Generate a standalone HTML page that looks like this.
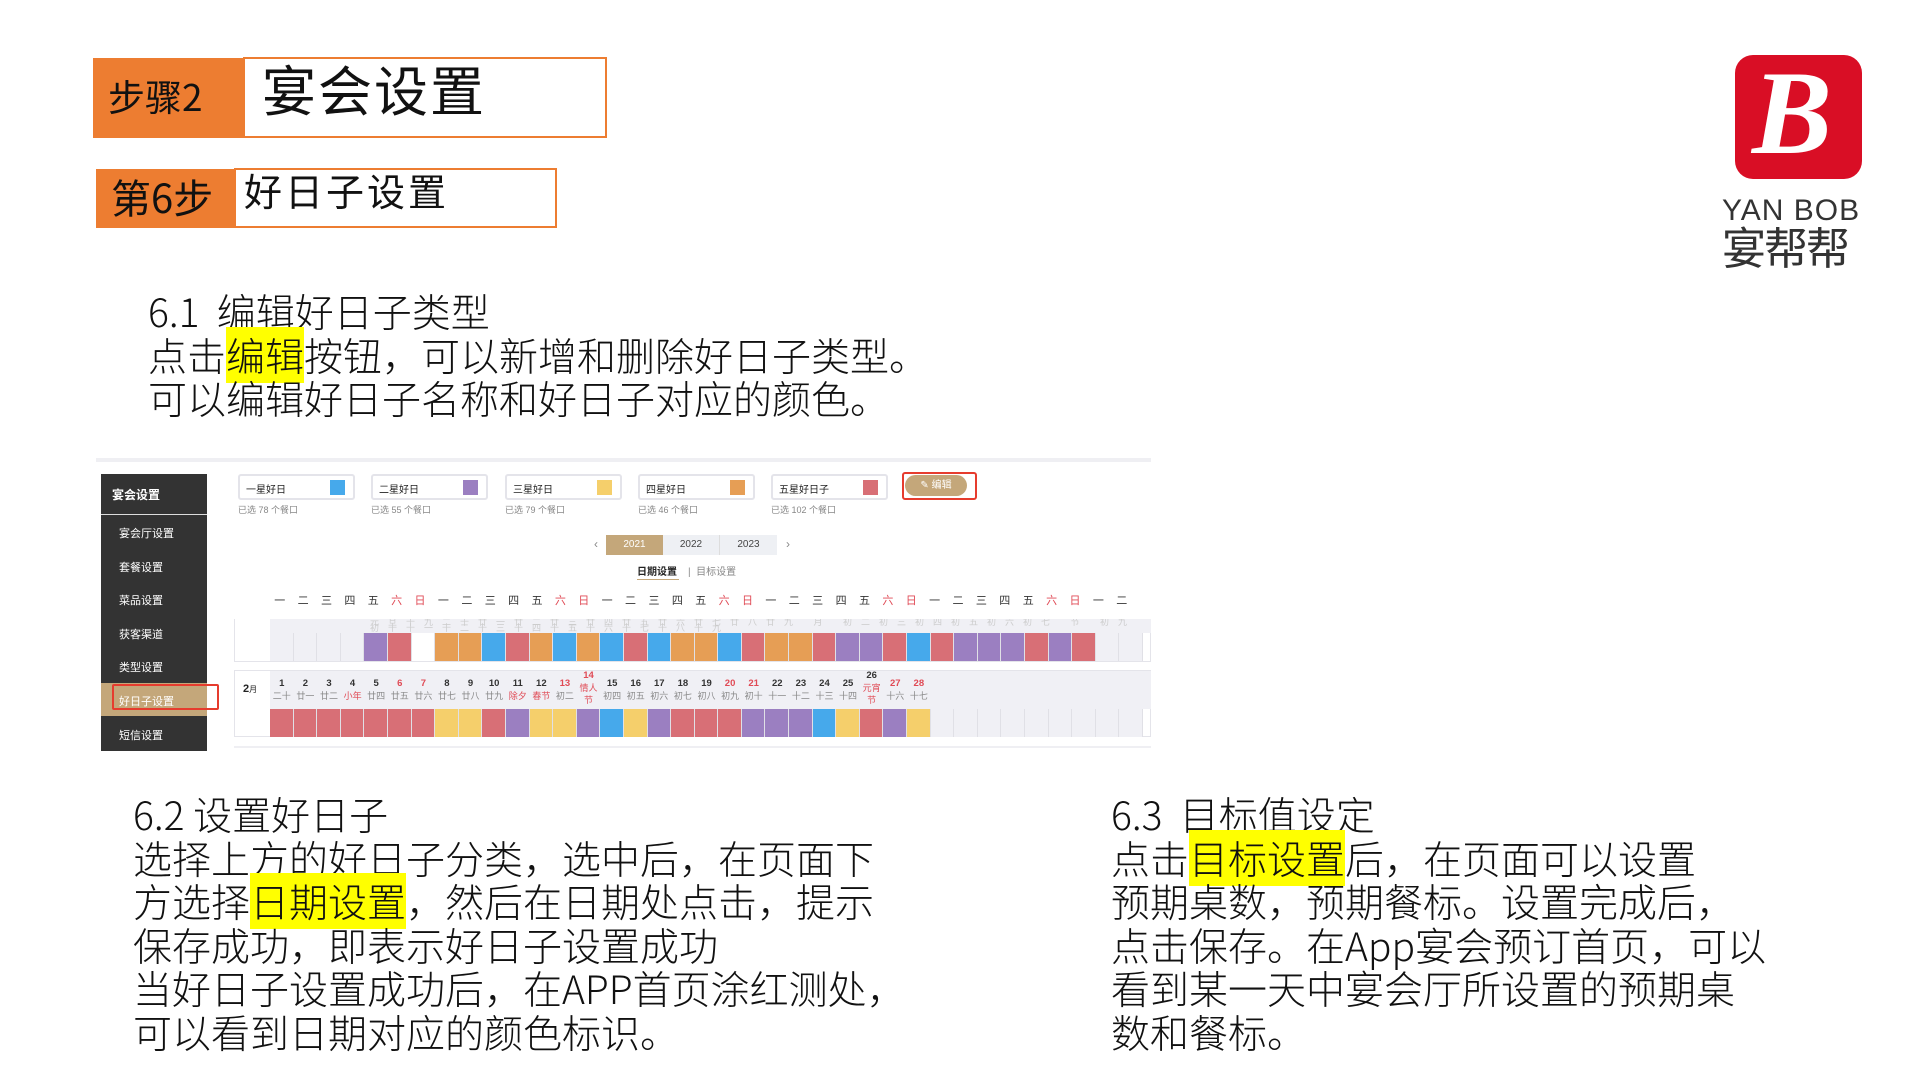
<!DOCTYPE html>
<html><head><meta charset="utf-8"><style>
*{margin:0;padding:0;box-sizing:border-box}
body{width:1920px;height:1080px;background:#fff;position:relative;overflow:hidden;font-family:"Liberation Sans","Noto Sans CJK SC",sans-serif;color:#111}
.a{position:absolute}
.big{font-family:"Liberation Sans Narrow","Noto Sans CJK SC",sans-serif;font-size:39px;line-height:43.6px;white-space:pre;color:#111;font-weight:300}
.hl{background:#ffff00}
.sb div{position:absolute;left:0;width:106px;color:#fff;font-size:11px;padding-left:18px}
.card{position:absolute;top:474px;width:117px;height:26px;border:2px solid #e4e4ea;border-radius:3px;background:#fff;font-size:10px;padding:5px 0 0 6px;color:#222}
.card i{position:absolute;right:8px;top:4px;width:15px;height:15px}
.sub{position:absolute;top:503px;font-size:9px;color:#888}
.row{position:absolute;left:270px;display:flex}
.row div{width:23.6px;height:28px;border-right:1px solid #e0e0e6}
.g{background:#f0f0f5}.w{background:#fff}.P{background:#9b7fc1}.R{background:#d86f76}.O{background:#e69e55}.B{background:#46a9eb}.Y{background:#f5cf6b}
.wk{position:absolute;top:592px;left:268px;display:flex;font-size:11px;color:#333}
.wk span{width:23.4px;text-align:center}
.r{color:#e04a55}
.fh{position:absolute;left:270px;top:670px;display:flex}
.fh div{width:23.6px;text-align:center;font-size:9px;line-height:12px;color:#333;padding-top:8px}
.fh div b{display:block;font-weight:bold;font-size:9.5px}
.fh div i{font-style:normal;color:#888;display:block}
.fh .r b,.fh .r i.rr{color:#e04a55}
</style></head><body>

<!-- headers -->
<div class="a" style="left:93px;top:58px;width:151px;height:80px;background:#ed7d31"></div>
<div class="a" style="left:108px;top:72px;font-size:37px;line-height:46px;font-family:'Liberation Sans Narrow','Noto Sans CJK SC',sans-serif;color:#111">步骤2</div>
<div class="a" style="left:243px;top:57px;width:364px;height:81px;border:2px solid #ed7d31;background:#fff"></div>
<div class="a" style="left:262px;top:60px;font-size:54px;line-height:66px;letter-spacing:2px;color:#111">宴会设置</div>

<div class="a" style="left:96px;top:169px;width:139px;height:59px;background:#ed7d31"></div>
<div class="a" style="left:111px;top:171px;font-size:40px;line-height:50px;font-family:'Liberation Sans Narrow','Noto Sans CJK SC',sans-serif;color:#111">第6步</div>
<div class="a" style="left:234px;top:168px;width:323px;height:60px;border:2px solid #ed7d31;background:#fff"></div>
<div class="a" style="left:244px;top:170px;font-size:38px;line-height:48px;letter-spacing:3px;color:#111">好日子设置</div>

<!-- logo -->
<div class="a" style="left:1735px;top:55px;width:127px;height:124px;background:#d90e25;border-radius:18px"></div>
<div class="a" style="left:1752px;top:48px;font-family:'Liberation Serif',serif;font-style:italic;font-weight:bold;font-size:120px;line-height:130px;color:#fff">B</div>
<div class="a" style="left:1722px;top:194px;font-size:30px;line-height:34px;color:#333;letter-spacing:1px">YAN BOB</div>
<div class="a" style="left:1722px;top:226px;font-size:44px;line-height:48px;color:#333;letter-spacing:-2px">宴帮帮</div>

<!-- 6.1 -->
<div class="a big" style="left:148px;top:290px">6.1  编辑好日子类型
点击<span class="hl">编辑</span>按钮，可以新增和删除好日子类型。
可以编辑好日子名称和好日子对应的颜色。</div>

<!-- screenshot -->
<div class="a" style="left:96px;top:458px;width:1055px;height:4px;background:#efeff3"></div>
<div class="a sb" style="left:101px;top:474px;width:106px;height:277px;background:#333">
 <div style="top:0;height:41px;border-bottom:1px solid #ddd;font-size:12px;padding:12px 0 0 11px;font-weight:bold">宴会设置</div>
 <div style="top:51px">宴会厅设置</div>
 <div style="top:85px">套餐设置</div>
 <div style="top:118px">菜品设置</div>
 <div style="top:152px">获客渠道</div>
 <div style="top:185px">类型设置</div>
 <div style="top:209px;height:33px;background:#c4a77a;padding-top:10px">好日子设置</div>
 <div style="top:253px">短信设置</div>
</div>
<div class="a" style="left:112px;top:684px;width:107px;height:26px;border:2px solid #e63c2e;border-radius:2px"></div>

<div class="card" style="left:238px">一星好日<i style="background:#46a9eb"></i></div>
<div class="card" style="left:371px">二星好日<i style="background:#9b7fc1"></i></div>
<div class="card" style="left:505px">三星好日<i style="background:#f5cf6b"></i></div>
<div class="card" style="left:638px">四星好日<i style="background:#e69e55"></i></div>
<div class="card" style="left:771px">五星好日子<i style="background:#d86f76"></i></div>
<div class="sub" style="left:238px">已选 78 个餐口</div>
<div class="sub" style="left:371px">已选 55 个餐口</div>
<div class="sub" style="left:505px">已选 79 个餐口</div>
<div class="sub" style="left:638px">已选 46 个餐口</div>
<div class="sub" style="left:771px">已选 102 个餐口</div>
<div class="a" style="left:902px;top:472px;width:75px;height:28px;border:2px solid #e63c2e;border-radius:3px"></div>
<div class="a" style="left:905px;top:475px;width:62px;height:21px;background:#c4a77a;border-radius:11px;color:#fff;font-size:10px;line-height:21px;text-align:center">✎ 编辑</div>

<div class="a" style="left:594px;top:537px;font-size:12px;color:#888">‹</div>
<div class="a" style="left:606px;top:535px;width:171px;height:20px;background:#eef0f4;display:flex;font-size:10px;line-height:20px;color:#444;text-align:center">
 <div style="width:57px;background:#c4a77a;color:#fff">2021</div><div style="width:57px;border-right:1px solid #ddd">2022</div><div style="width:57px">2023</div></div>
<div class="a" style="left:786px;top:537px;font-size:12px;color:#888">›</div>
<div class="a" style="left:637px;top:563px;font-size:10px;color:#222;font-weight:bold">日期设置</div>
<div class="a" style="left:637px;top:579px;width:42px;height:1px;background:#c4a77a"></div>
<div class="a" style="left:688px;top:563px;font-size:10px;color:#888">|&nbsp;&nbsp;目标设置</div>

<div class="wk"><span>一</span><span>二</span><span>三</span><span>四</span><span>五</span><span class="r">六</span><span class="r">日</span><span>一</span><span>二</span><span>三</span><span>四</span><span>五</span><span class="r">六</span><span class="r">日</span><span>一</span><span>二</span><span>三</span><span>四</span><span>五</span><span class="r">六</span><span class="r">日</span><span>一</span><span>二</span><span>三</span><span>四</span><span>五</span><span class="r">六</span><span class="r">日</span><span>一</span><span>二</span><span>三</span><span>四</span><span>五</span><span class="r">六</span><span class="r">日</span><span>一</span><span>二</span></div>

<!-- Jan -->
<div class="a" style="left:234px;top:619px;width:917px;height:43px;border:1px solid #e4e4ea;border-top:none"></div>
<div class="a" style="left:270px;top:619px;width:881px;height:14px;background:#f0f0f5;font-size:9px;color:#ccc;line-height:6px;overflow:hidden;padding-left:100px;letter-spacing:9px">元旦十九二十廿一廿二廿三廿四廿五廿六廿七廿八廿九 月 初二初三初四初五初六初七 节 初九初十十一十二十三十四十五十六十七十八十九</div>
<div class="row" style="top:633px"><div class="g"></div><div class="g"></div><div class="g"></div><div class="g"></div><div class="P"></div><div class="R"></div><div class="w"></div><div class="O"></div><div class="O"></div><div class="B"></div><div class="R"></div><div class="O"></div><div class="B"></div><div class="O"></div><div class="B"></div><div class="R"></div><div class="B"></div><div class="O"></div><div class="O"></div><div class="B"></div><div class="R"></div><div class="O"></div><div class="O"></div><div class="R"></div><div class="P"></div><div class="P"></div><div class="R"></div><div class="B"></div><div class="R"></div><div class="P"></div><div class="P"></div><div class="P"></div><div class="R"></div><div class="P"></div><div class="R"></div><div class="g"></div><div class="g"></div></div>

<!-- Feb -->
<div class="a" style="left:234px;top:670px;width:917px;height:67px;border:1px solid #e4e4ea;background:#fff"></div>
<div class="a" style="left:270px;top:671px;width:881px;height:38px;background:#f0f0f5"></div>
<div class="a" style="left:243px;top:683px;font-size:11px;font-weight:bold;color:#222">2<span style="font-weight:normal;font-size:8px">月</span></div>
<div class="fh">
<div><b>1</b><i>二十</i></div><div><b>2</b><i>廿一</i></div><div><b>3</b><i>廿二</i></div><div class="r"><b style="color:#333">4</b><i class="rr">小年</i></div><div><b>5</b><i>廿四</i></div><div class="r"><b>6</b><i>廿五</i></div><div class="r"><b>7</b><i>廿六</i></div><div><b>8</b><i>廿七</i></div><div><b>9</b><i>廿八</i></div><div><b>10</b><i>廿九</i></div><div class="r"><b style="color:#333">11</b><i class="rr">除夕</i></div><div class="r"><b style="color:#333">12</b><i class="rr">春节</i></div><div class="r"><b>13</b><i>初二</i></div><div class="r" style="padding-top:0"><b>14</b><i class="rr">情人节</i></div><div><b>15</b><i>初四</i></div><div><b>16</b><i>初五</i></div><div><b>17</b><i>初六</i></div><div><b>18</b><i>初七</i></div><div><b>19</b><i>初八</i></div><div class="r"><b>20</b><i>初九</i></div><div class="r"><b>21</b><i>初十</i></div><div><b>22</b><i>十一</i></div><div><b>23</b><i>十二</i></div><div><b>24</b><i>十三</i></div><div><b>25</b><i>十四</i></div><div class="r" style="padding-top:0"><b style="color:#333">26</b><i class="rr">元宵节</i></div><div class="r"><b>27</b><i>十六</i></div><div class="r"><b>28</b><i>十七</i></div>
</div>
<div class="row" style="top:709px"><div class="R"></div><div class="R"></div><div class="R"></div><div class="R"></div><div class="R"></div><div class="R"></div><div class="R"></div><div class="Y"></div><div class="Y"></div><div class="R"></div><div class="P"></div><div class="Y"></div><div class="Y"></div><div class="P"></div><div class="B"></div><div class="Y"></div><div class="P"></div><div class="R"></div><div class="R"></div><div class="R"></div><div class="P"></div><div class="P"></div><div class="P"></div><div class="B"></div><div class="Y"></div><div class="R"></div><div class="P"></div><div class="Y"></div><div class="g"></div><div class="g"></div><div class="g"></div><div class="g"></div><div class="g"></div><div class="g"></div><div class="g"></div><div class="g"></div><div class="g"></div></div>
<div class="a" style="left:234px;top:746px;width:917px;height:2px;background:#efeff3"></div>

<!-- 6.2 -->
<div class="a big" style="left:133px;top:793px">6.2 设置好日子
选择上方的好日子分类，选中后，在页面下
方选择<span class="hl">日期设置</span>，然后在日期处点击，提示
保存成功，即表示好日子设置成功
当好日子设置成功后，在APP首页涂红测处，
可以看到日期对应的颜色标识。</div>

<!-- 6.3 -->
<div class="a big" style="left:1111px;top:793px">6.3  目标值设定
点击<span class="hl">目标设置</span>后，在页面可以设置
预期桌数，预期餐标。设置完成后，
点击保存。在App宴会预订首页，可以
看到某一天中宴会厅所设置的预期桌
数和餐标。</div>

</body></html>
